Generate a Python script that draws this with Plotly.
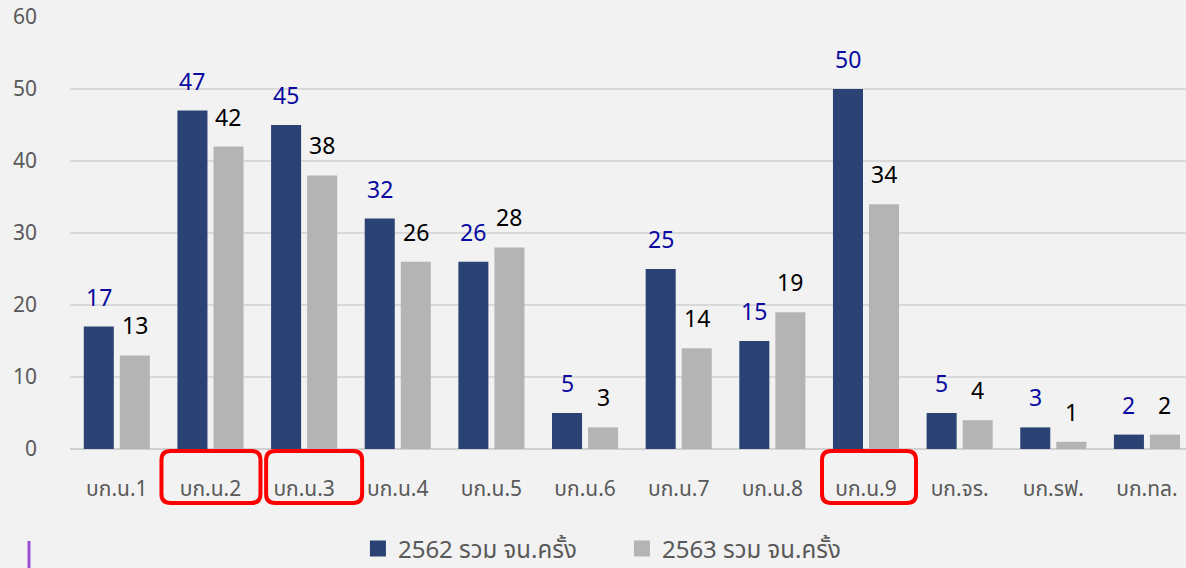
import plotly.graph_objects as go

categories = ["บก.น.1", "บก.น.2", "บก.น.3", "บก.น.4", "บก.น.5", "บก.น.6",
              "บก.น.7", "บก.น.8", "บก.น.9", "บก.จร.", "บก.รฟ.", "บก.ทล."]
values_2562 = [17, 47, 45, 32, 26, 5, 25, 15, 50, 5, 3, 2]
values_2563 = [13, 42, 38, 26, 28, 3, 14, 19, 34, 4, 1, 2]
series_names = ["2562 รวม จน.ครั้ง", "2563 รวม จน.ครั้ง"]
y_ticks = [0, 10, 20, 30, 40, 50, 60]
highlighted = ["บก.น.2", "บก.น.3", "บก.น.9"]

FONT = "Tahoma, 'Noto Sans Thai', 'Noto Sans', sans-serif"
BLUE = "#2b4275"
GRAY = "#b4b4b4"
colors = [BLUE, GRAY]

fig = go.Figure()
for name, vals, col in zip(series_names, [values_2562, values_2563], colors):
    fig.add_trace(go.Bar(x=categories, y=vals, name=name, showlegend=False,
                         marker=dict(color=col, line=dict(width=0))))
# legend entries with larger square swatches
for name, col in zip(series_names, colors):
    fig.add_trace(go.Scatter(x=[None], y=[None], mode="markers", name=name,
                             marker=dict(symbol="square", size=16, color=col)))

annotations = []
for c, v in zip(categories, values_2562):
    annotations.append(dict(x=c, y=v, xref="x", yref="y", text=str(v), showarrow=False,
                            xshift=-18, yshift=28, yanchor="middle",
                            font=dict(family=FONT, size=23, color="#0a0aa0")))
for c, v in zip(categories, values_2563):
    annotations.append(dict(x=c, y=v, xref="x", yref="y", text=str(v), showarrow=False,
                            xshift=18, yshift=28, yanchor="middle",
                            font=dict(family=FONT, size=23, color="#000000")))


def rounded_rect(x0, y0, x1, y1, r):
    return (f"M{x0+r},{y0} L{x1-r},{y0} Q{x1},{y0} {x1},{y0-r} "
            f"L{x1},{y1+r} Q{x1},{y1} {x1-r},{y1} L{x0+r},{y1} Q{x0},{y1} {x0},{y1+r} "
            f"L{x0},{y0-r} Q{x0},{y0} {x0+r},{y0} Z")


box_offsets = {"บก.น.2": (-49, 50), "บก.น.3": (-38, 58), "บก.น.9": (-44, 50)}
shapes = []
for c in highlighted:
    a, b = box_offsets[c]
    shapes.append(dict(type="path", xref="x", yref="paper", xsizemode="pixel", ysizemode="pixel",
                       xanchor=c, yanchor=0, path=rounded_rect(a, -2, b, -54, 9),
                       line=dict(color="#ff0000", width=4), fillcolor="rgba(0,0,0,0)"))
shapes.append(dict(type="line", xref="paper", yref="paper", x0=-41/1116, x1=-41/1116,
                   y0=-92/432, y1=-119/432, line=dict(color="#9b50d6", width=3)))

fig.update_layout(
    width=1186, height=568,
    margin=dict(l=70, r=0, t=17, b=119, autoexpand=False),
    paper_bgcolor="#f2f2f2", plot_bgcolor="#f2f2f2",
    barmode="group", bargap=0.23, bargroupgap=0.167,
    font=dict(family=FONT, color="#595959"),
    showlegend=True,
    legend=dict(orientation="h", x=0.258, xanchor="left", y=-100/432, yanchor="middle",
                itemsizing="trace", entrywidth=219, entrywidthmode="pixels",
                font=dict(family=FONT, size=24, color="#595959"), bgcolor="rgba(0,0,0,0)"),
    annotations=annotations,
    shapes=shapes,
)
fig.update_xaxes(range=[-0.5, 11.417], showgrid=False, showline=False, zeroline=False,
                 ticks="", ticklabelstandoff=25,
                 tickfont=dict(family=FONT, size=21, color="#595959"))
fig.update_yaxes(range=[0, 60], tickvals=y_ticks, showgrid=True, gridcolor="#d9d9d9", gridwidth=2,
                 zeroline=True, zerolinecolor="#d0d0d0", zerolinewidth=2, showline=False,
                 ticks="", ticklabelstandoff=32,
                 tickfont=dict(family=FONT, size=21, color="#595959"))

fig.write_html("out.html", config={"displayModeBar": False},
               post_script="document.body.style.margin='0';")
